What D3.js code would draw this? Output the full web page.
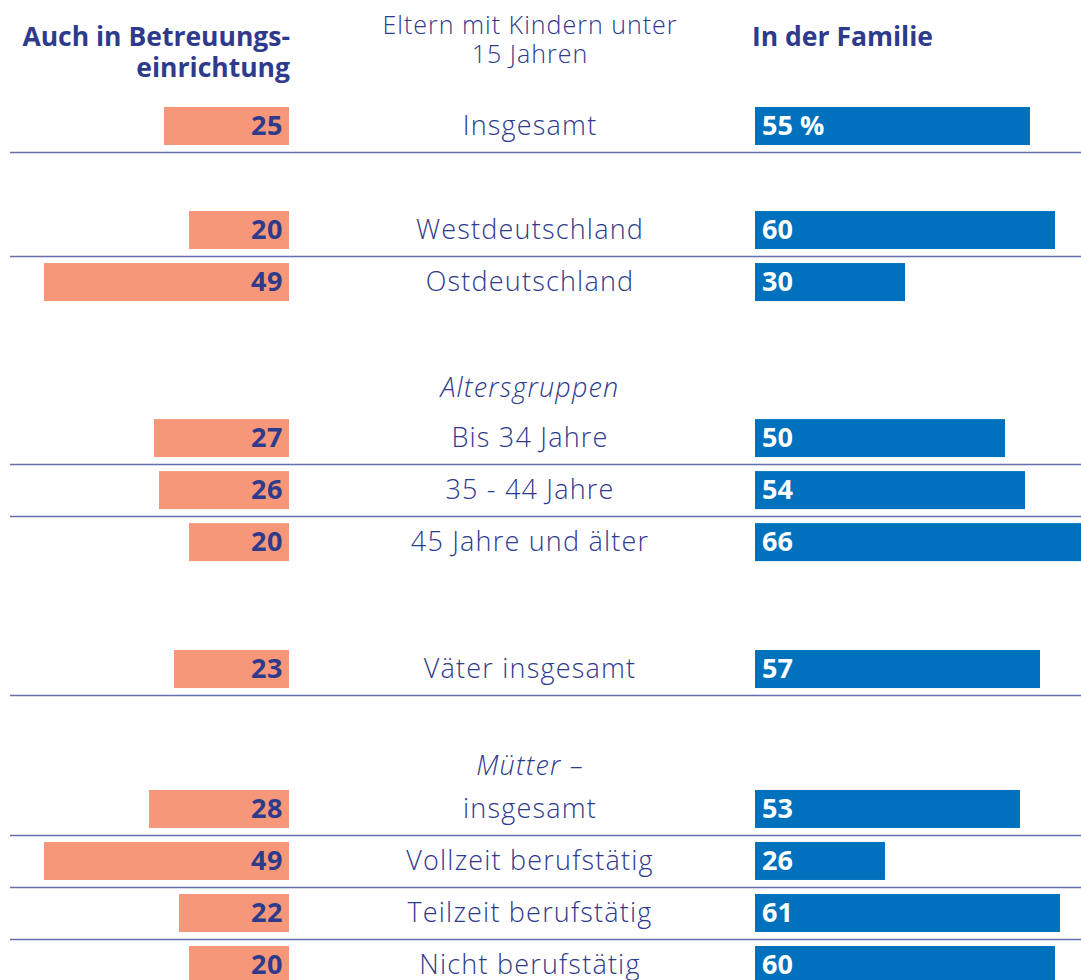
<!DOCTYPE html>
<html>
<head>
  <meta charset="utf-8">
  <title>Kinderbetreuung</title>
  <script src="https://cdn.jsdelivr.net/npm/d3@7.0.0/dist/d3.min.js"></script>
  <style>
    body { margin: 0; background: #fff; }
    text { font-family: "Open Sans", "Lato", sans-serif; }
  </style>
</head>
<body>
  <div id="chart"></div>

  <script>
    // Zeilen der Grafik
    var categories = [
      "Insgesamt",
      "Westdeutschland", "Ostdeutschland",
      "Bis 34 Jahre", "35 - 44 Jahre", "45 Jahre und älter",
      "Väter insgesamt",
      "insgesamt", "Vollzeit berufstätig", "Teilzeit berufstätig", "Nicht berufstätig"
    ];
    var groups = [0, 1, 1, 2, 2, 2, 3, 4, 4, 4, 4];
    // "Auch in Betreuungseinrichtung" in %
    var betreuung = [25, 20, 49, 27, 26, 20, 23, 28, 49, 22, 20];
    // "In der Familie" in %
    var familie = [55, 60, 30, 50, 54, 66, 57, 53, 26, 61, 60];
    var groupTitles = [null, null, "Altersgruppen", null, "Mütter –"];

    // Zeilenplätze (Layout)
    var rowSlot = [0, 2, 3, 6, 7, 8, 10.44, 13.13, 14.13, 15.13, 16.13];
    var titleSlot = [null, null, 5.05, null, 12.33];

    var W = 1081, H = 980;
    var navy = "#2e3a8c", salmon = "#f59778", blue = "#0071bc";
    var barH = 38;

    var svg = d3.select("#chart").append("svg")
      .attr("width", W)
      .attr("height", H);

    var y = d3.scaleLinear().domain([0, 16.13]).range([107, 946]);
    var xLeft = d3.scaleLinear().domain([0, 10]).range([289, 239]);
    var xRight = d3.scaleLinear().domain([0, 10]).range([755, 805]);

    var rows = categories.map(function(c, i) {
      return { label: c, group: groups[i], left: betreuung[i], right: familie[i], slot: rowSlot[i], i: i };
    });

    // Trennlinien: nach jeder Zeile, ausser der letzten einer Gruppe mit mehreren Zeilen
    var lines = rows.filter(function(d, i) {
      var size = groups.filter(function(g) { return g === d.group; }).length;
      var last = i === rows.length - 1 || groups[i + 1] !== d.group;
      return !(last && size > 1) && i !== rows.length - 1;
    });

    svg.selectAll(".sep")
      .data(lines)
      .enter().append("line")
      .attr("class", "sep")
      .attr("x1", 10)
      .attr("x2", W)
      .attr("y1", function(d) { return y(d.slot) + barH + 7.5; })
      .attr("y2", function(d) { return y(d.slot) + barH + 7.5; })
      .attr("stroke", "#4a56a4")
      .attr("stroke-opacity", 0.85)
      .attr("stroke-width", 1.5);

    // Balken links
    svg.selectAll(".bl")
      .data(rows)
      .enter().append("rect")
      .attr("class", "bl")
      .attr("x", function(d) { return xLeft(d.left); })
      .attr("y", function(d) { return y(d.slot); })
      .attr("width", function(d) { return xLeft(0) - xLeft(d.left); })
      .attr("height", barH)
      .attr("fill", salmon);

    svg.selectAll(".vl")
      .data(rows)
      .enter().append("text")
      .attr("class", "vl")
      .attr("x", xLeft(0) - 6)
      .attr("y", function(d) { return y(d.slot) + barH / 2 + 9; })
      .attr("text-anchor", "end")
      .attr("font-size", 27)
      .attr("font-weight", "bold")
      .attr("letter-spacing", 0.5)
      .attr("fill", navy)
      .text(function(d) { return d.left; });

    // Balken rechts
    svg.selectAll(".br")
      .data(rows)
      .enter().append("rect")
      .attr("class", "br")
      .attr("x", xRight(0))
      .attr("y", function(d) { return y(d.slot); })
      .attr("width", function(d) { return xRight(d.right) - xRight(0); })
      .attr("height", barH)
      .attr("fill", blue);

    svg.selectAll(".vr")
      .data(rows)
      .enter().append("text")
      .attr("class", "vr")
      .attr("x", xRight(0) + 7)
      .attr("y", function(d) { return y(d.slot) + barH / 2 + 9; })
      .attr("font-size", 27)
      .attr("font-weight", "bold")
      .attr("fill", "#fff")
      .text(function(d, i) { return i === 0 ? d.right + " %" : d.right; });

    // Beschriftung Mitte
    svg.selectAll(".lab")
      .data(rows)
      .enter().append("text")
      .attr("class", "lab")
      .attr("x", 530)
      .attr("y", function(d) { return y(d.slot) + barH / 2 + 9; })
      .attr("text-anchor", "middle")
      .attr("font-size", 27)
      .attr("font-weight", 300)
      .attr("letter-spacing", 1.2)
      .attr("fill", navy)
      .text(function(d) { return d.label; });

    svg.selectAll(".gt")
      .data(groupTitles.map(function(t, i) { return { t: t, slot: titleSlot[i] }; })
        .filter(function(d) { return d.t; }))
      .enter().append("text")
      .attr("class", "gt")
      .attr("x", 530)
      .attr("y", function(d) { return y(d.slot) + barH / 2 + 8; })
      .attr("text-anchor", "middle")
      .attr("font-size", 27)
      .attr("font-weight", 300)
      .attr("letter-spacing", 1.2)
      .attr("font-style", "italic")
      .attr("fill", navy)
      .text(function(d) { return d.t; });

    // Kopfzeile
    var head = svg.append("g").attr("fill", navy);
    head.append("text")
      .attr("x", 290).attr("y", 46)
      .attr("text-anchor", "end")
      .attr("font-size", 26.5).attr("font-weight", "bold")
      .text("Auch in Betreuungs-");
    head.append("text")
      .attr("x", 290).attr("y", 77)
      .attr("text-anchor", "end")
      .attr("font-size", 26.5).attr("font-weight", "bold")
      .text("einrichtung");
    head.append("text")
      .attr("x", 530).attr("y", 34)
      .attr("text-anchor", "middle")
      .attr("font-size", 25).attr("font-weight", 300)
      .attr("letter-spacing", 1)
      .text("Eltern mit Kindern unter");
    head.append("text")
      .attr("x", 530).attr("y", 63)
      .attr("text-anchor", "middle")
      .attr("font-size", 25).attr("font-weight", 300)
      .attr("letter-spacing", 1)
      .text("15 Jahren");
    head.append("text")
      .attr("x", 752).attr("y", 46)
      .attr("font-size", 26.5).attr("font-weight", "bold")
      .text("In der Familie");
  </script>
</body>
</html>
